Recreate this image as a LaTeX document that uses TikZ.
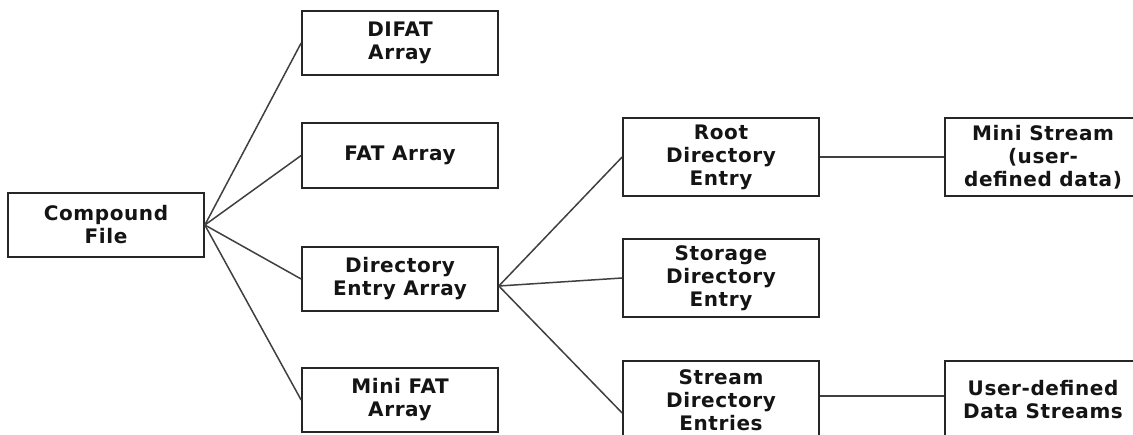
\documentclass[tikz,border=0pt]{standalone}
\usepackage{fontspec}
\setmainfont[LetterSpace=3]{DejaVu Sans}
\begin{document}
\begin{tikzpicture}[x=1pt,y=-1pt,
  box/.style={draw=black!85,line width=1.7pt,fill=white,minimum width=196pt,
    align=center,inner sep=0pt,text=black!92,
    font=\fontsize{20}{23}\selectfont\bfseries},
  lowbox/.style={box,minimum height=64pt},
  tallbox/.style={box,minimum height=78pt},
  link/.style={draw=black!75,line width=1.5pt}]
\clip (0,0) rectangle (1133,434);
\fill[white] (0,0) rectangle (1133,434);

% first level
\node[lowbox] (cf)    at (106,225)   {Compound\\File};
\node[lowbox] (difat) at (400,43)    {DIFAT\\Array};
\node[lowbox,minimum height=65pt] (fat) at (400,155.5) {FAT Array};
\node[lowbox] (dea)   at (400,279)   {Directory\\Entry Array};
\node[lowbox] (mfat)  at (400,400)   {Mini FAT\\Array};

% directory entries
\node[tallbox] (root)   at (721,157) {Root\\Directory\\Entry};
\node[tallbox] (stor)   at (721,278) {Storage\\Directory\\Entry};
\node[tallbox] (stream) at (721,400) {Stream\\Directory\\Entries};

% data
\node[tallbox] (mini)  at (1043,157) {Mini Stream\\(user-\\defined data)};
\node[tallbox] (udata) at (1043,400) {User-defined\\Data Streams};

% connectors
\foreach \t in {difat,fat,dea,mfat}
  \draw[link] (cf.east) -- (\t.west);
\coordinate (fork) at ([yshift=-7pt]dea.east);
\draw[link] (fork) -- (root.west);
\draw[link] (fork) -- (stor.west);
\draw[link] (fork) -- ([yshift=-13pt]stream.west);
\draw[link] (root.east) -- (mini.west);
\draw[link] ([yshift=4pt]stream.east) -- ([yshift=4pt]udata.west);
\end{tikzpicture}
\end{document}
